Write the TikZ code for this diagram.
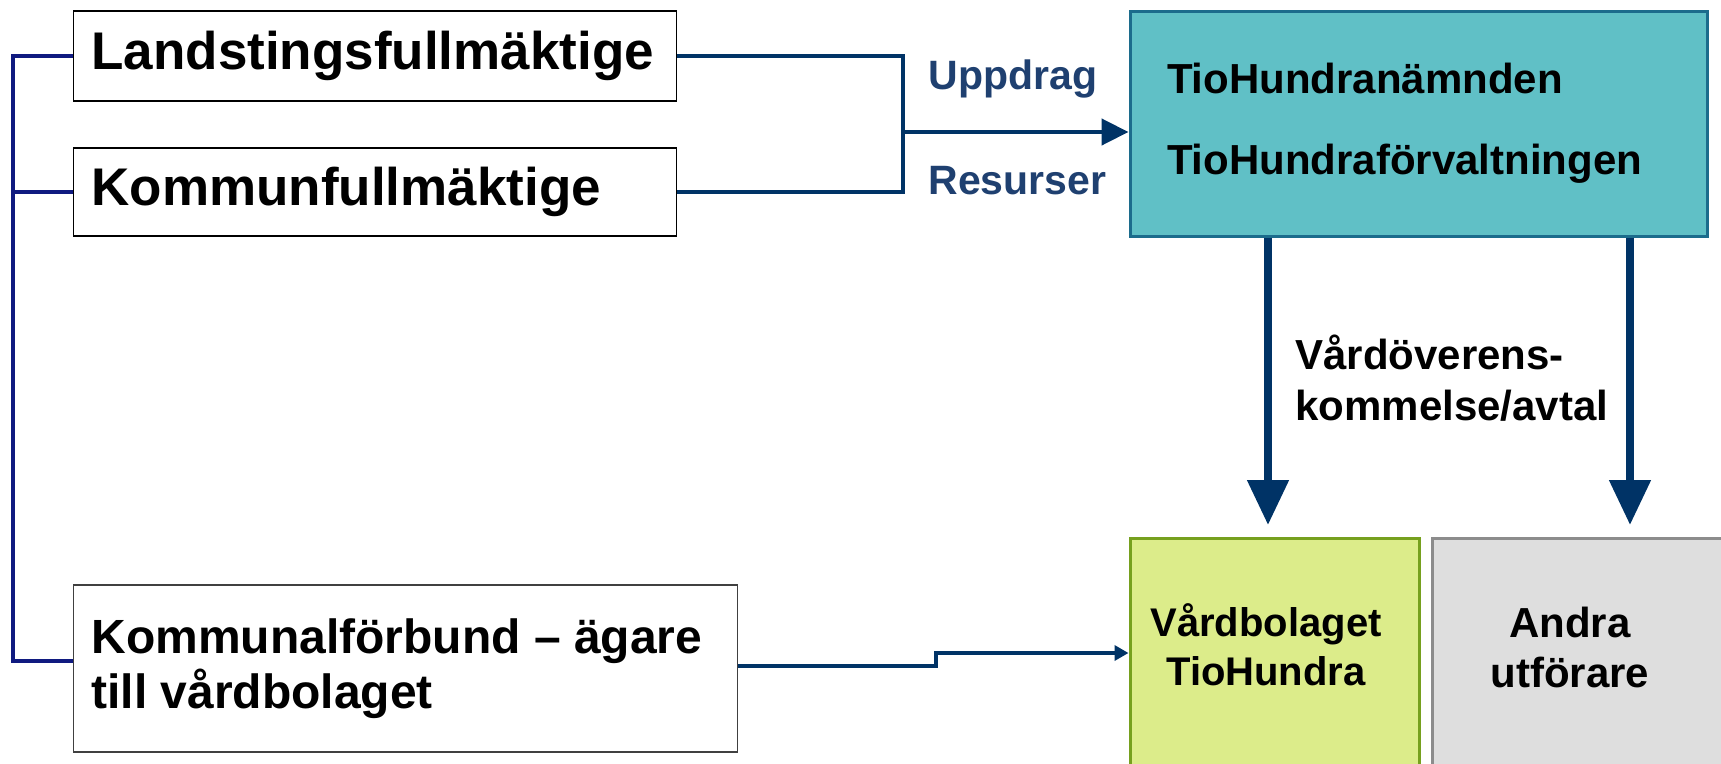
\documentclass[tikz,border=0pt]{standalone}
\usepackage{fontspec}
\setmainfont{Liberation Sans}
\usepackage{tikz}
\usetikzlibrary{arrows.meta}
\definecolor{linkblue}{RGB}{0,51,102}
\definecolor{railblue}{RGB}{16,26,128}
\definecolor{labelblue}{RGB}{31,64,112}
\definecolor{tealfill}{RGB}{96,192,198}
\definecolor{tealdraw}{RGB}{28,108,140}
\definecolor{limefill}{RGB}{220,236,138}
\definecolor{limedraw}{RGB}{118,160,30}
\definecolor{greyfill}{RGB}{222,222,222}
\definecolor{greydraw}{RGB}{140,140,140}
\tikzset{
  every picture/.style = {
    x = 1pt,
    y = -1pt,
    >= {Triangle[length=27pt, width=26pt]},
  }
  ,
  body/.style = {
    rectangle,
    draw = black,
    fill = white,
    line width = 1.8pt,
    align = flush left,
    inner xsep = 18pt,
    inner ysep = 0pt,
    font = \fontsize{53}{58}\selectfont\bfseries
  }
  , % the board box
  board/.style = {
    rectangle,
    draw = tealdraw,
    fill = tealfill,
    line width = 3pt,
    align = flush left,
    inner xsep = 37pt,
    font = \fontsize{42}{81}\selectfont\bfseries
  }
  , % boxes of the providers
  unit/.style = {
    rectangle,
    line width = 3pt,
    minimum width = 289pt,
    minimum height = 262pt
  }
  ,
  unit-text/.style = {
    align = center,
    font = \fontsize{40}{49}\selectfont\bfseries
  }
  , % labels of links
  label-link/.style = {
    anchor = west,
    text = labelblue,
    font = \fontsize{41}{48}\selectfont\bfseries
  }
  ,
  link/.style = {
    draw = linkblue,
    line width = 4.5pt
  }
  ,
  rail/.style = {
    draw = railblue,
    line width = 4pt
  }
  ,
  bigarrow/.style = {
    draw = linkblue,
    line width = 8pt,
    -{Triangle[length=45pt, width=40pt]}
  }
}
\begin{document}
\begin{tikzpicture}
    \useasboundingbox (0,0) rectangle (1721,763);
    \clip (0,0) rectangle (1721,763);
    \node[body, minimum width=603pt, minimum height=90pt, text width=567pt] at (375,56) (land) {Landstingsfullmäktige};
    \node[body, minimum width=603pt, minimum height=88pt, text width=567pt] at (375,192) (komm) {Kommunfullmäktige};
    \node[body, draw=black!75, minimum width=664pt, minimum height=167pt, text width=628pt, font=\fontsize{48}{55}\selectfont\bfseries] at (405.5,668.5) (kforb) {Kommunalförbund – ägare\\till vårdbolaget};
    \node[board, minimum width=577pt, minimum height=225pt, text width=503pt] at (1418.5,123.5) (tio) {TioHundranämnden\\TioHundraförvaltningen};
    \node[unit, draw=limedraw, fill=limefill] at (1274.5,669) (vbol) {};
    \node[unit-text] at (1266,645) (vboltext) {Vårdbolaget\\TioHundra};
    \node[unit, draw=greydraw, fill=greyfill, minimum width=296pt] at (1580,669) (andra) {};
    \node[unit-text, font=\fontsize{42}{50}\selectfont\bfseries] at (1570,647) (andratext) {Andra\\utförare};
    % links to the board
    \coordinate (join) at (903,132);
    \draw[link] (land.east) -| (join) |- (komm.east);
    \draw[link, ->] (join) -- (join -| tio.west);
    \node[label-link] at (925,79) (uppdrag) {Uppdrag};
    \node[label-link] at (925,181) (resurser) {Resurser};
    % agreements
    \coordinate (d1) at (1268,525);
    \coordinate (d2) at (1630,525);
    \draw[bigarrow] (tio.south -| d1) -- (d1);
    \draw[bigarrow] (tio.south -| d2) -- (d2);
    \node[anchor=west, align=left, font=\fontsize{42}{51}\selectfont\bfseries] at (1292,378) (avtal) {Vårdöverens-\\kommelse/avtal};
    % owners
    \coordinate (spine) at (13,0);
    \draw[rail] (land.west) -- (land.west -| spine) -- ([yshift=7.5pt]kforb.west -| spine) -- ([yshift=7.5pt]kforb.west);
    \draw[rail] (komm.west) -- (komm.west -| spine);
    \coordinate (kink) at (936,660);
    \draw[link, -{Triangle[length=14pt, width=15pt]}] ([yshift=2.5pt]kforb.east) -| (kink) |- ([yshift=16pt]vbol.west);
\end{tikzpicture}
\end{document}
